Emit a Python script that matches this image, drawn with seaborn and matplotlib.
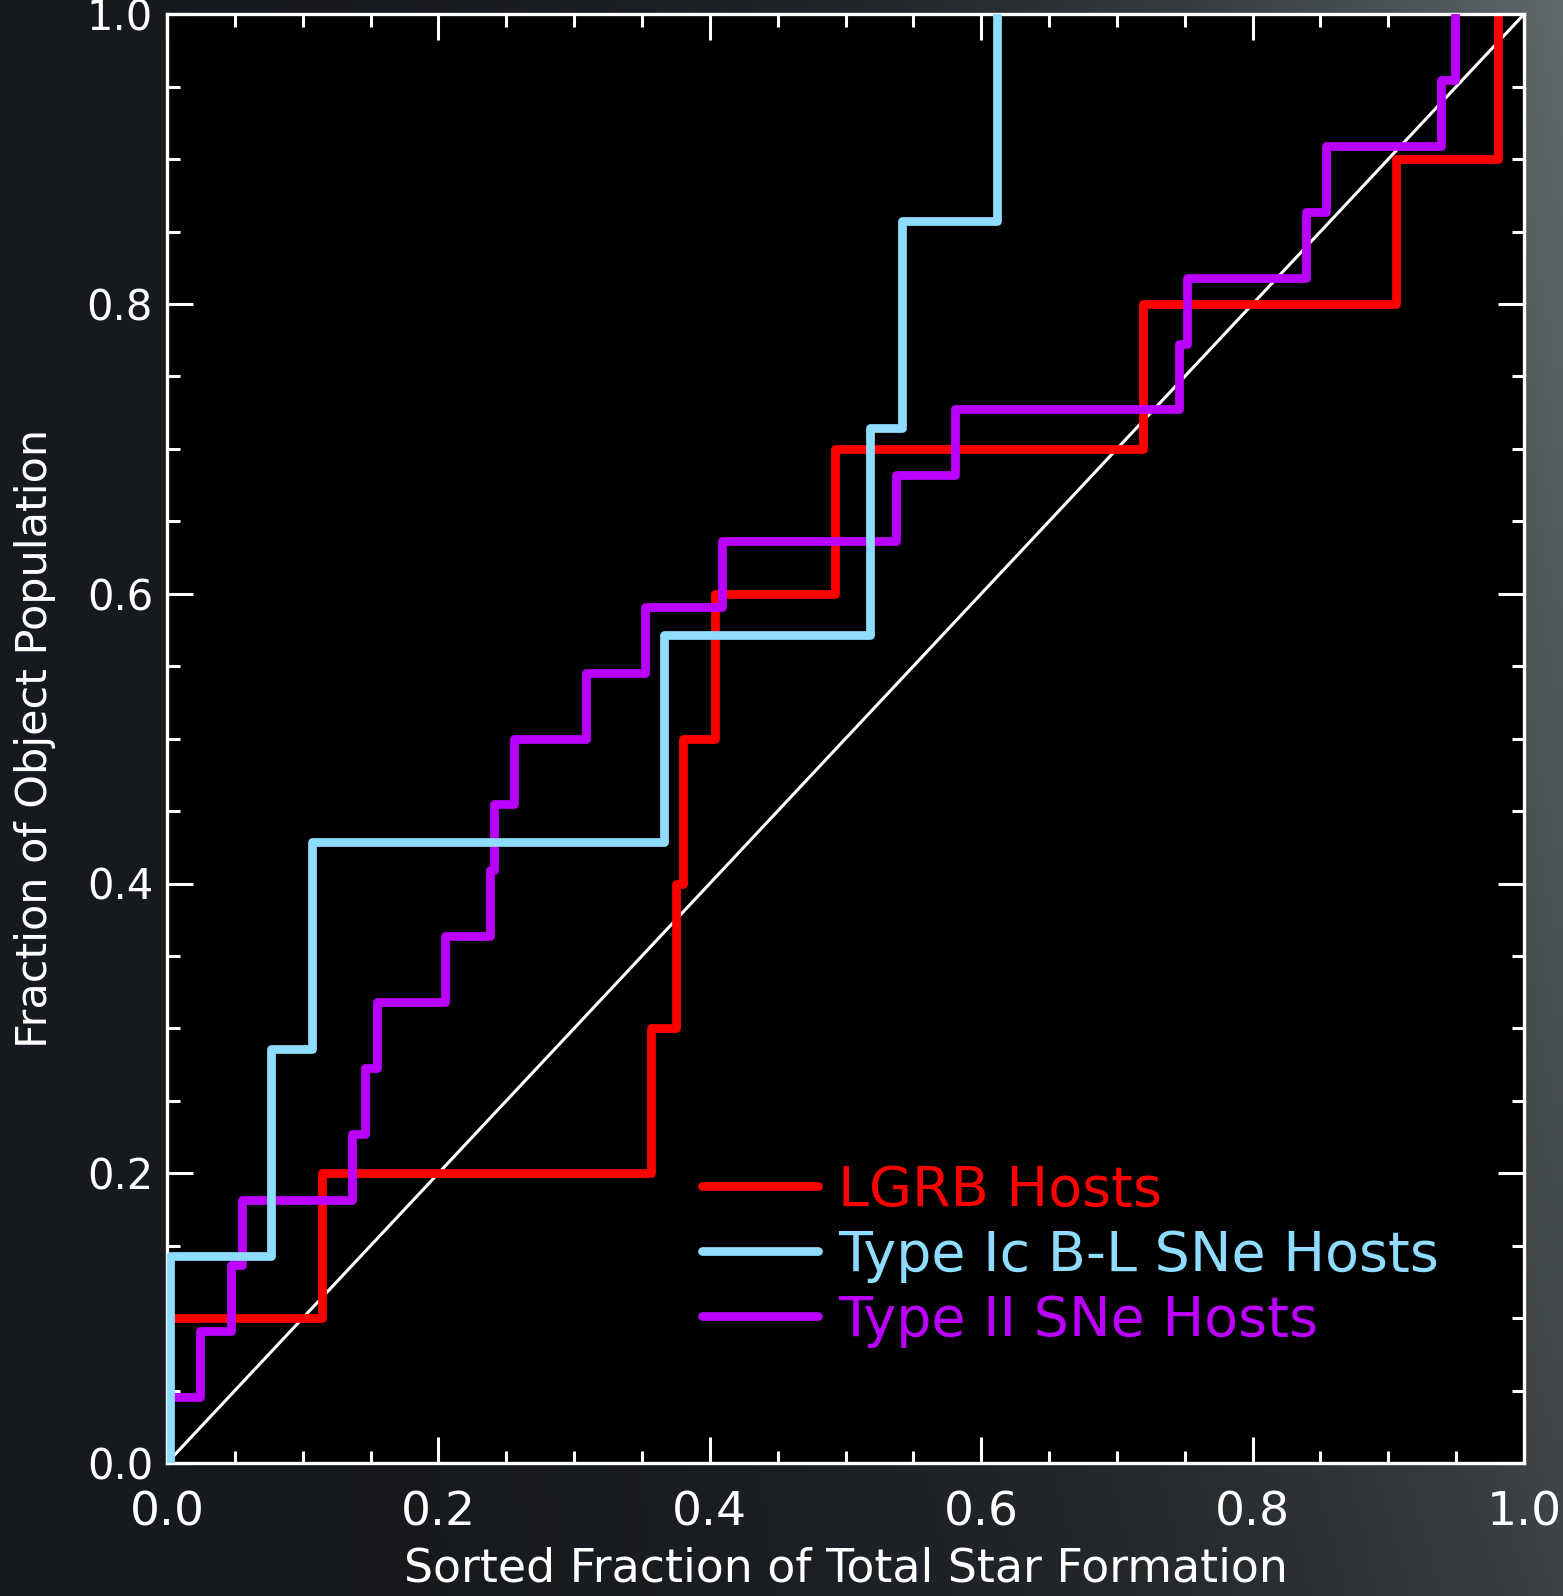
import numpy as np
import pandas as pd
import matplotlib
matplotlib.use("Agg")
import matplotlib.pyplot as plt
import seaborn as sns
from matplotlib.ticker import MultipleLocator

# Sorted fraction of total star formation at each host's position
lgrb_frac = [0.0, 0.114, 0.357, 0.375, 0.380, 0.404, 0.492, 0.719, 0.906, 0.981]
icbl_frac = [0.002, 0.077, 0.107, 0.366, 0.518, 0.542, 0.612]
typeII_frac = [0.0, 0.024, 0.047, 0.055, 0.136, 0.146, 0.155, 0.205, 0.238,
               0.241, 0.256, 0.309, 0.352, 0.409, 0.537, 0.581, 0.746, 0.752,
               0.839, 0.854, 0.939, 0.949]

series_labels = ["LGRB Hosts", "Type Ic B-L SNe Hosts", "Type II SNe Hosts"]
series_colors = ["#ff0000", "#8edcff", "#bb00ff"]

x_ticks = [0.0, 0.2, 0.4, 0.6, 0.8, 1.0]
y_ticks = [0.0, 0.2, 0.4, 0.6, 0.8, 1.0]
x_label = "Sorted Fraction of Total Star Formation"
y_label = "Fraction of Object Population"

sns.set_theme(style="dark")
plt.rcParams["font.family"] = ["DejaVu Sans"]

W, H = 1563, 1596
fig = plt.figure(figsize=(W / 100, H / 100), dpi=100)

# dark slate backdrop, lighter toward the upper right
bg = fig.add_axes([0, 0, 1, 1], zorder=-10)
bg.set_axis_off()
u = np.linspace(0, 1, 400)[None, :]
v = np.linspace(0, 1, 400)[:, None]
t = np.clip(0.08 + 0.9 * u ** 3.0 * (0.5 + 0.5 * (1 - v)), 0, 1)
dark = np.array([16, 18, 22]) / 255
light = np.array([98, 107, 110]) / 255
img = dark[None, None, :] * (1 - t[..., None]) + light[None, None, :] * t[..., None]
bg.imshow(img, aspect="auto", extent=[0, 1, 0, 1], origin="upper")
bg.set_xlim(0, 1)
bg.set_ylim(0, 1)

x0, x1 = 167, 1524
y0, y1 = 1463, 14.25
ax = fig.add_axes([x0 / W, (H - y0) / H, (x1 - x0) / W, (y0 - y1) / H])
ax.set_facecolor("black")

# one-to-one reference line
ax.axline((0, 0), slope=1, color="white", lw=2.2, zorder=1)

handles = []
for vals, lab, col, z in [(lgrb_frac, series_labels[0], series_colors[0], 2),
                          (typeII_frac, series_labels[2], series_colors[2], 3),
                          (icbl_frac, series_labels[1], series_colors[1], 4)]:
    df = pd.DataFrame({"frac": vals})
    sns.ecdfplot(data=df, x="frac", ax=ax, color=col, lw=6.3, zorder=z,
                 label=lab)
    handles.append((lab, ax.lines[-1]))

order = {lab: i for i, lab in enumerate(series_labels)}
handles.sort(key=lambda p: order[p[0]])

ax.set_xlim(0, 1)
ax.set_ylim(0, 1)
ax.set_xticks(x_ticks)
ax.set_yticks(y_ticks)
ax.xaxis.set_minor_locator(MultipleLocator(0.05))
ax.yaxis.set_minor_locator(MultipleLocator(0.05))
ax.grid(False)
for s in ax.spines.values():
    s.set_color("white")
    s.set_linewidth(2.4)
    s.set_visible(True)

ax.tick_params(which="both", direction="in", top=True, right=True,
               color="white", width=2.2, bottom=True, left=True)
ax.tick_params(which="major", length=19)
ax.tick_params(which="minor", length=9)
ax.tick_params(axis="x", which="major", pad=20, labelcolor="white")
ax.tick_params(axis="y", which="major", pad=10, labelcolor="white")
ax.set_xticklabels([f"{v:.1f}" for v in x_ticks], fontsize=34)
ax.set_yticklabels([f"{v:.1f}" for v in y_ticks], fontsize=30)

ax.set_xlabel(x_label, fontsize=33, color="white", labelpad=8)
ax.set_ylabel(y_label, fontsize=31, color="white", labelpad=22)

leg = ax.legend([h for _, h in handles], [l for l, _ in handles],
                loc="center left", bbox_to_anchor=(0.394, 0.143),
                frameon=False, fontsize=40, handlelength=2.1,
                handletextpad=0.35, labelspacing=0.2, borderpad=0,
                borderaxespad=0, labelcolor="linecolor")

fig.savefig("out.png", dpi=100, facecolor=fig.get_facecolor())
